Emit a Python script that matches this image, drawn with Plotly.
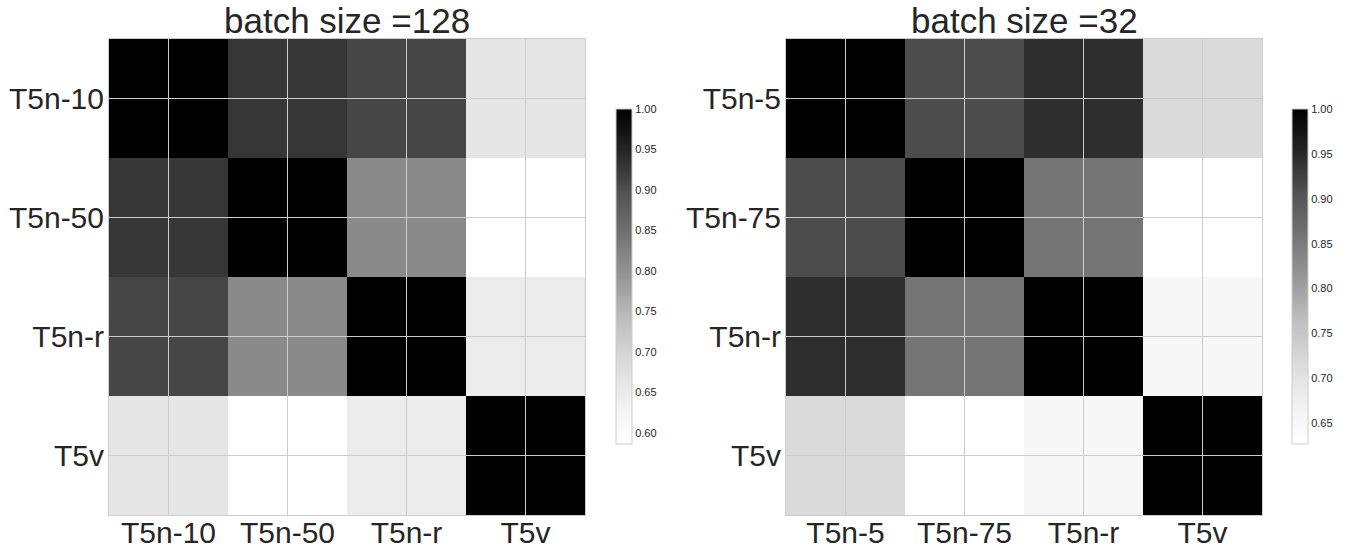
import plotly.graph_objects as go

# ---------------- data ----------------
labels_128 = ["T5n-10", "T5n-50", "T5n-r", "T5v"]
sim_128 = [
    [1.000, 0.929, 0.910, 0.660],
    [0.929, 1.000, 0.811, 0.586],
    [0.910, 0.811, 1.000, 0.647],
    [0.660, 0.586, 0.647, 1.000],
]
labels_32 = ["T5n-5", "T5n-75", "T5n-r", "T5v"]
sim_32 = [
    [1.000, 0.913, 0.944, 0.718],
    [0.913, 1.000, 0.857, 0.627],
    [0.944, 0.857, 1.000, 0.652],
    [0.718, 0.627, 0.652, 1.000],
]
titles = ["batch size =128", "batch size =32"]
cbar_ticks_128 = [0.60, 0.65, 0.70, 0.75, 0.80, 0.85, 0.90, 0.95, 1.00]
cbar_ticks_32 = [0.65, 0.70, 0.75, 0.80, 0.85, 0.90, 0.95, 1.00]

# matplotlib "Greys" colormap
greys = [
    [0.000, "#ffffff"], [0.125, "#f0f0f0"], [0.250, "#d9d9d9"],
    [0.375, "#bdbdbd"], [0.500, "#969696"], [0.625, "#737373"],
    [0.750, "#525252"], [0.875, "#252525"], [1.000, "#000000"],
]

W, H = 1351, 548
FONT = "Liberation Sans, Arial, sans-serif"
TXT = "#262626"
GRID = "#cccccc"

panels = [
    dict(labels=labels_128, z=sim_128, ticks=cbar_ticks_128, title=titles[0],
         x0=109, x1=585, cbx=616, xa="x", ya="y"),
    dict(labels=labels_32, z=sim_32, ticks=cbar_ticks_32, title=titles[1],
         x0=786, x1=1262, cbx=1292, xa="x2", ya="y2"),
]
ytop, ybot = 39, 515
cb_top, cb_bot = 109, 444

fig = go.Figure()
layout = dict(
    width=W, height=H, margin=dict(l=0, r=0, t=0, b=0, autoexpand=False),
    paper_bgcolor="white", plot_bgcolor="white",
    font=dict(family=FONT, color=TXT), showlegend=False,
)
annotations = []
shapes = []
for k, p in enumerate(panels):
    n = len(p["labels"])
    idx = list(range(n))
    fig.add_trace(go.Heatmap(
        z=p["z"], x=idx, y=idx, colorscale=greys,
        zmin=min(min(r) for r in p["z"]), zmax=max(max(r) for r in p["z"]),
        xaxis=p["xa"], yaxis=p["ya"], hoverongaps=False,
        colorbar=dict(
            x=p["cbx"] / W, xanchor="left", xref="paper",
            y=1 - (cb_top + cb_bot) / 2 / H, yanchor="middle",
            len=(cb_bot - cb_top) / H, lenmode="fraction",
            thickness=16, outlinewidth=1, outlinecolor=GRID,
            xpad=0, ypad=0,
            tickvals=p["ticks"], ticktext=[f"{t:.2f}" for t in p["ticks"]],
            ticks="", ticklen=0, tickfont=dict(size=11, color=TXT, family=FONT),
        ),
    ))
    sfx = "" if k == 0 else "2"
    layout["xaxis" + sfx] = dict(
        domain=[p["x0"] / W, p["x1"] / W], anchor="y" + sfx,
        range=[-0.5, n - 0.5], tickvals=idx, ticktext=p["labels"],
        tickfont=dict(size=30, color=TXT, family=FONT), ticks="",
        ticklabelstandoff=-9,
        showgrid=False, zeroline=False, showline=True, mirror=True,
        linecolor=GRID, linewidth=1, automargin=False,
    )
    layout["yaxis" + sfx] = dict(
        domain=[1 - ybot / H, 1 - ytop / H], anchor="x" + sfx,
        range=[n - 0.5, -0.5], tickvals=idx, ticktext=p["labels"],
        tickfont=dict(size=30, color=TXT, family=FONT), ticks="",
        ticklabelstandoff=-2,
        showgrid=False, zeroline=False, showline=True, mirror=True,
        linecolor=GRID, linewidth=1, automargin=False,
    )
    # grid lines drawn on top of the image at tick positions
    for i in idx:
        shapes.append(dict(type="line", xref=p["xa"], yref=p["ya"],
                           x0=i, x1=i, y0=-0.5, y1=n - 0.5,
                           line=dict(color=GRID, width=1), layer="above"))
        shapes.append(dict(type="line", xref=p["xa"], yref=p["ya"],
                           x0=-0.5, x1=n - 0.5, y0=i, y1=i,
                           line=dict(color=GRID, width=1), layer="above"))
    annotations.append(dict(
        text=p["title"], xref="paper", yref="paper",
        x=(p["x0"] + p["x1"]) / 2 / W, y=1,
        xanchor="center", yanchor="top", showarrow=False, borderpad=0,
        font=dict(size=35, color=TXT, family=FONT),
    ))
layout["annotations"] = annotations
layout["shapes"] = shapes
fig.update_layout(**layout)
fig.write_html(
    "out.html",
    config={"displayModeBar": False},
    post_script="document.body.style.margin='0px';document.body.style.overflow='hidden';",
)
